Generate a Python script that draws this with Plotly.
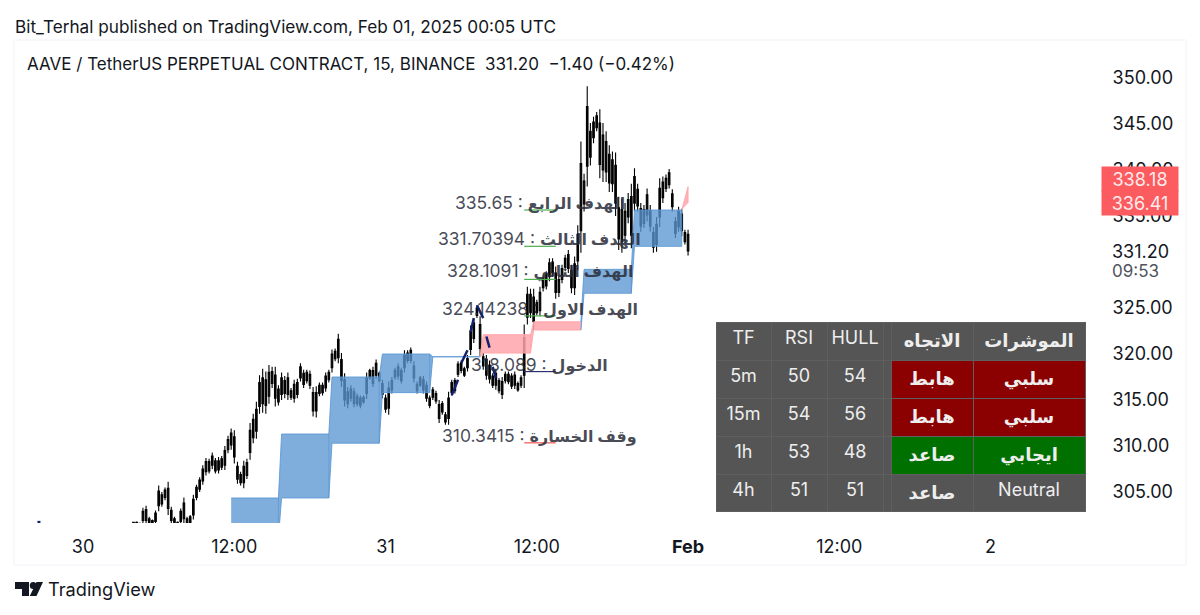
import pandas as pd
import plotly.graph_objects as go

# the page keeps its 8px body margin, so the figure is that much smaller
BODY_MARGIN = 8
WIDTH = 1192
HEIGHT = 607
FONT = "Inter, DejaVu Sans, sans-serif"

first_bar = pd.Timestamp("2025-01-30 00:00")

# 15 minute bars, the first one on Jan 30 04:00
bar_high = [
    301.7, 301.8, 301.6, 303.3, 303.5, 302.3, 302.0, 303.0, 305.7, 305.0,
    305.5, 306.1, 303.4, 302.3, 301.8, 303.2, 304.4, 302.3, 302.5, 304.7,
    305.8, 306.6, 307.9, 308.7, 308.6, 309.3, 308.7, 308.8, 308.9, 310.0,
    311.1, 311.9, 311.7, 308.3, 307.2, 308.4, 308.6, 312.5, 313.5, 314.8,
    317.7, 318.4, 318.1, 318.8, 318.6, 318.6, 316.6, 318.0, 317.6, 318.0,
    316.3, 317.2, 317.3, 319.0, 318.3, 318.3, 318.2, 316.4, 316.5, 316.9,
    316.9, 318.0, 318.3, 320.5, 320.6, 322.2, 320.1, 317.9, 316.4, 316.6,
    316.3, 315.7, 315.5, 315.5, 318.0, 318.4, 318.6, 319.4, 318.1, 317.2,
    315.6, 317.0, 317.5, 318.5, 319.0, 318.5, 320.4, 320.4, 320.7, 319.2,
    317.0, 317.6, 317.6, 317.0, 315.5, 316.4, 316.0, 315.0, 314.9, 313.7,
    315.9, 317.2, 317.4, 319.2, 319.3, 318.6, 319.9, 323.1, 323.9, 325.3,
    324.1, 320.1, 319.9, 319.3, 317.9, 318.4, 317.4, 317.5, 318.1, 318.1,
    317.9, 318.1, 317.0, 317.7, 323.2, 327.3, 327.1, 327.1, 325.9, 327.3,
    328.6, 329.0, 330.4, 330.4, 329.5, 328.6, 329.7, 330.8, 331.3, 329.7,
    330.6, 334.0, 343.1, 339.6, 349.1, 345.1, 345.8, 346.3, 346.6, 345.1,
    344.2, 342.7, 342.0, 341.9, 337.1, 336.9, 336.4, 337.5, 338.5, 340.2,
    338.5, 336.4, 336.2, 338.0, 336.2, 333.8, 334.9, 339.1, 339.3, 339.5,
    340.1, 337.9, 334.9, 336.0, 335.8, 333.5, 333.5,
]
bar_low = [
    301.5, 301.5, 301.4, 301.5, 301.5, 301.5, 301.5, 301.5, 302.9, 303.4,
    304.1, 302.5, 301.5, 301.5, 301.5, 301.5, 301.5, 301.5, 301.5, 302.0,
    304.1, 305.0, 305.8, 306.8, 307.0, 307.5, 307.0, 307.0, 307.4, 307.4,
    309.2, 309.6, 308.1, 305.9, 305.7, 305.4, 306.4, 308.5, 310.3, 310.8,
    313.5, 313.6, 313.5, 314.6, 316.3, 314.3, 314.4, 315.0, 315.2, 315.0,
    315.0, 314.7, 315.2, 317.0, 316.3, 316.8, 316.2, 313.2, 313.1, 315.4,
    315.5, 315.9, 316.9, 318.0, 319.2, 319.0, 316.4, 314.3, 314.1, 314.8,
    314.2, 314.3, 314.1, 314.6, 315.1, 317.2, 316.4, 317.3, 316.9, 315.2,
    313.6, 313.4, 315.7, 317.2, 317.2, 316.8, 318.0, 319.0, 319.0, 316.9,
    315.7, 316.4, 315.7, 314.8, 314.1, 315.0, 314.6, 312.5, 313.4, 312.3,
    312.3, 315.5, 315.7, 317.5, 317.9, 317.5, 318.1, 319.9, 321.2, 323.9,
    319.7, 318.3, 317.2, 316.8, 316.3, 316.1, 315.7, 315.1, 316.8, 316.7,
    316.2, 316.2, 315.9, 316.3, 316.3, 323.2, 323.9, 322.6, 324.2, 324.1,
    326.8, 327.0, 327.9, 328.4, 326.0, 326.2, 327.7, 329.0, 328.8, 326.6,
    326.4, 329.1, 331.0, 335.5, 338.2, 340.5, 342.9, 344.2, 339.1, 338.7,
    338.7, 337.6, 337.6, 335.0, 331.3, 331.0, 332.0, 334.2, 331.5, 335.5,
    335.5, 333.3, 333.7, 334.4, 333.3, 331.0, 331.1, 333.8, 336.4, 337.6,
    338.0, 335.5, 332.6, 333.3, 332.8, 331.9, 330.7,
]
# all candles are black in the picture so only the body ends can be read
body_low = [
    301.5, 301.6, 301.4, 301.9, 301.9, 301.7, 301.6, 301.8, 303.5, 303.7,
    304.4, 303.2, 301.9, 301.7, 301.6, 301.8, 302.1, 301.7, 301.7, 302.5,
    304.4, 305.3, 306.2, 307.2, 307.3, 307.9, 307.3, 307.4, 307.7, 307.9,
    309.6, 310.1, 308.8, 306.4, 306.0, 306.0, 306.8, 309.3, 310.9, 311.6,
    314.3, 314.6, 314.4, 315.4, 316.8, 315.2, 314.8, 315.6, 315.7, 315.6,
    315.3, 315.2, 315.6, 317.4, 316.7, 317.1, 316.6, 313.8, 313.8, 315.7,
    315.8, 316.3, 317.2, 318.5, 319.5, 319.6, 317.1, 315.0, 314.6, 315.2,
    314.6, 314.6, 314.4, 314.8, 315.7, 317.4, 316.8, 317.7, 317.1, 315.6,
    314.0, 314.1, 316.1, 317.5, 317.6, 317.1, 318.5, 319.3, 319.3, 317.4,
    316.0, 316.6, 316.1, 315.2, 314.4, 315.3, 314.9, 313.0, 313.7, 312.6,
    313.0, 315.8, 316.0, 317.8, 318.2, 317.7, 318.5, 320.5, 321.7, 324.2,
    320.6, 318.7, 317.7, 317.3, 316.6, 316.6, 316.0, 315.6, 317.1, 317.0,
    316.5, 316.6, 316.1, 316.6, 317.7, 324.0, 324.5, 323.5, 324.5, 324.7,
    327.2, 327.4, 328.4, 328.8, 326.7, 326.7, 328.1, 329.4, 329.3, 327.2,
    327.2, 330.1, 333.4, 336.3, 340.4, 341.4, 343.5, 344.6, 340.6, 340.0,
    339.8, 338.6, 338.5, 336.4, 332.5, 332.2, 332.9, 334.9, 332.9, 336.4,
    336.1, 333.9, 334.2, 335.1, 333.9, 331.6, 331.9, 334.9, 337.0, 338.0,
    338.4, 336.0, 333.1, 333.8, 333.4, 332.2, 331.2,
]
body_high = [
    301.7, 301.7, 301.6, 302.9, 303.1, 302.1, 301.9, 302.7, 305.1, 304.7,
    305.2, 305.4, 303.0, 302.1, 301.7, 302.9, 303.8, 302.1, 302.3, 304.2,
    305.5, 306.3, 307.5, 308.3, 308.3, 308.9, 308.4, 308.4, 308.6, 309.5,
    310.7, 311.4, 311.0, 307.8, 306.9, 307.8, 308.2, 311.7, 312.9, 314.0,
    316.9, 317.4, 317.2, 318.0, 318.1, 317.7, 316.2, 317.4, 317.1, 317.4,
    316.0, 316.7, 316.9, 318.6, 317.9, 318.0, 317.8, 315.8, 315.8, 316.6,
    316.6, 317.6, 318.0, 320.0, 320.3, 321.6, 319.4, 317.2, 315.9, 316.2,
    315.9, 315.4, 315.2, 315.3, 317.4, 318.2, 318.2, 319.0, 317.9, 316.8,
    315.2, 316.3, 317.1, 318.2, 318.6, 318.2, 319.9, 320.1, 320.4, 318.7,
    316.7, 317.4, 317.2, 316.6, 315.2, 316.1, 315.7, 314.5, 314.6, 313.4,
    315.2, 316.9, 317.1, 318.9, 319.0, 318.4, 319.5, 322.5, 323.4, 325.0,
    323.2, 319.7, 319.4, 318.8, 317.6, 317.9, 317.1, 317.0, 317.8, 317.8,
    317.6, 317.7, 316.8, 317.4, 321.8, 326.5, 326.5, 326.2, 325.6, 326.7,
    328.2, 328.6, 329.9, 330.0, 328.8, 328.1, 329.3, 330.4, 330.8, 329.1,
    329.8, 333.0, 340.7, 338.8, 346.9, 344.2, 345.2, 345.9, 345.1, 343.8,
    343.1, 341.7, 341.1, 340.5, 335.9, 335.7, 335.5, 336.8, 337.1, 339.3,
    337.9, 335.8, 335.7, 337.3, 335.6, 333.2, 334.1, 338.0, 338.7, 339.1,
    339.7, 337.4, 334.4, 335.5, 335.2, 333.2, 333.0,
]

# 4h cloud, one level pair per step, bar number counted from Jan 30 00:00
step_bar = [47, 63, 79, 95, 111, 127, 143, 159, 175, 191, 192]
cloud_top = [304.35, 311.3, 317.5, 320.0, 319.7, 322.1, 323.5, 329.2, 335.65, 338.18]
cloud_bottom = [300.0, 304.35, 310.3, 315.8, 319.7, 320.1, 322.6, 326.6, 331.7, 336.41]
cloud_side = ["up", "up", "up", "up", "up", "down", "down", "up", "up", "down"]

# broken navy hull line
hull_bar = [117, 119, None, 120, 122, None, 123, 124, None, 125, 127, None, 128, 129, None, 130, 131]
hull_price = [315.5, 317.2, None, 319.0, 320.4, None, 322.4, 323.9, None, 325.3, 323.9, None, 321.9, 320.7, None, 318.6, 317.4]
hull_dot_bar = [-14]
hull_dot_price = [301.7]

target_names = ["الهدف الرابع", "الهدف الثالث", "الهدف الثاني", "الهدف الاول", "الدخول", "وقف الخسارة"]
target_text = ["335.65", "331.70394", "328.1091", "324.14238", "318.089", "310.3415"]
target_price = [335.65, 331.70394, 328.1091, 324.14238, 318.089, 310.3415]
target_color = ["#4caf50", "#4caf50", "#4caf50", "#4caf50", "#2a2e6e", "#ef5350"]
target_bars = [140, 150]
target_label_bar = 145

tick_dates = ["2025-01-30", "2025-01-30 12:00", "2025-01-31", "2025-01-31 12:00",
              "2025-02-01", "2025-02-01 12:00", "2025-02-02"]
tick_labels = ["30", "12:00", "31", "12:00", "<b>Feb</b>", "12:00", "2"]
price_ticks = [305, 310, 315, 320, 325, 335, 340, 345, 350]

table_header = ["TF", "RSI", "HULL", "", "<b>الاتجاه</b>", "<b>الموشرات</b>"]
table_tf = ["5m", "15m", "1h", "4h"]
table_rsi = ["50", "54", "53", "51"]
table_hull = ["54", "56", "48", "51"]
table_trend = ["<b>هابط</b>", "<b>هابط</b>", "<b>صاعد</b>", "<b>صاعد</b>"]
table_signal = ["<b>سلبي</b>", "<b>سلبي</b>", "<b>ايجابي</b>", "Neutral"]
table_trend_fill = ["#8b0000", "#8b0000", "#007000", "#555555"]
table_signal_fill = ["#8b0000", "#8b0000", "#007000", "#555555"]


def bar_time(bar):
    return first_bar + pd.Timedelta(minutes=15 * bar)


def px(x):
    return (x - BODY_MARGIN) / WIDTH


def py(y):
    return 1 - (y - BODY_MARGIN) / HEIGHT


def page_text(text, x, y, size=17, color="#131722", anchor="left"):
    fig.add_annotation(
        text=text, xref="paper", yref="paper", x=px(x), y=py(y), xanchor=anchor, yanchor="middle",
        showarrow=False, font=dict(family=FONT, size=size, color=color),
    )


fig = go.Figure()

cloud_colors = {"up": ("rgba(91,150,210,0.78)", "rgba(91,150,210,0.85)"),
                "down": ("rgba(255,165,170,0.85)", "rgba(255,165,170,0.9)")}
for i in range(len(cloud_top)):
    start, end = step_bar[i], step_bar[i + 1]
    xs = [start, max(start, end - 1), max(start, end - 1), start]
    ys = [cloud_top[i], cloud_top[i], cloud_bottom[i], cloud_bottom[i]]
    if i > 0:
        xs = [start - 1] + xs + [start - 1]
        ys = [cloud_top[i - 1]] + ys + [cloud_bottom[i - 1]]
    if i == len(cloud_top) - 1:
        # the last step is still forming, only a thin wedge off the old top
        xs = [start - 1, end, end]
        ys = [cloud_top[i - 1], cloud_top[i], cloud_bottom[i]]
    fill, edge = cloud_colors[cloud_side[i]]
    fig.add_trace(go.Scatter(
        x=[bar_time(b) for b in xs], y=ys, mode="lines", fill="toself", fillcolor=fill,
        line=dict(color=edge, width=1), hoverinfo="skip", showlegend=False,
    ))

fig.add_trace(go.Candlestick(
    x=[bar_time(16 + i) for i in range(len(bar_high))],
    open=body_low, high=bar_high, low=bar_low, close=body_high,
    increasing=dict(line=dict(color="#000000", width=1.1), fillcolor="#000000"),
    decreasing=dict(line=dict(color="#000000", width=1.1), fillcolor="#000000"),
    whiskerwidth=0, hoverinfo="skip", showlegend=False,
))

fig.add_trace(go.Scatter(
    x=[None if b is None else bar_time(b) for b in hull_bar], y=hull_price, mode="lines",
    line=dict(color="#12216b", width=2.5), hoverinfo="skip", showlegend=False,
))
fig.add_trace(go.Scatter(
    x=[bar_time(b) for b in hull_dot_bar], y=hull_dot_price, mode="markers",
    marker=dict(color="#12216b", size=3, symbol="square"), hoverinfo="skip", showlegend=False,
))

for name, text, price, color in zip(target_names, target_text, target_price, target_color):
    fig.add_trace(go.Scatter(
        x=[bar_time(b) for b in target_bars], y=[price, price], mode="lines",
        line=dict(color=color, width=1.2), hoverinfo="skip", showlegend=False,
    ))
    fig.add_annotation(
        x=bar_time(target_label_bar), y=price, xanchor="center", yanchor="bottom", yshift=-5,
        text=f'{text} : <span style="font-size:16px"><b>{name}</b></span>', showarrow=False,
        font=dict(family=FONT, size=17.5, color="rgba(40,44,56,0.85)"),
    )

fig.add_trace(go.Table(
    domain=dict(x=[px(716), px(1085)], y=[py(512), py(322)]),
    columnwidth=[55, 56, 56, 8, 82, 112],
    header=dict(
        values=table_header, height=38, align="center", fill_color="#555555",
        line=dict(color="#5f5f5f", width=1),
        font=dict(family=FONT, size=18, color="#eeeeee"),
    ),
    cells=dict(
        values=[table_tf, table_rsi, table_hull, ["", "", "", ""], table_trend, table_signal],
        height=37.5, align="center",
        fill_color=[["#555555"] * 4, ["#555555"] * 4, ["#555555"] * 4, ["#555555"] * 4,
                    table_trend_fill, table_signal_fill],
        line=dict(color="#5f5f5f", width=1), font=dict(family=FONT, size=18, color="#eeeeee"),
    ),
))

# frame around the chart and the TradingView mark
fig.add_shape(type="rect", xref="paper", yref="paper", x0=px(14), x1=px(1186), y0=py(565), y1=py(40),
              line=dict(color="#f0f3fa", width=1), layer="below")
logo_bar = [(15, 582), (29, 582), (29, 596), (22, 596), (22, 589), (15, 589)]
logo_slant = [(36.5, 582), (43, 582), (36.5, 596), (29.8, 596)]
for corners in (logo_bar, logo_slant):
    path = "M " + " L ".join(f"{px(a):.5f},{py(b):.5f}" for a, b in corners) + " Z"
    fig.add_shape(type="path", xref="paper", yref="paper", path=path, fillcolor="#131722", line_width=0)
fig.add_shape(type="circle", xref="paper", yref="paper", x0=px(29.8), x1=px(36.6), y0=py(589), y1=py(582),
              fillcolor="#131722", line_width=0)

page_text("Bit_Terhal published on TradingView.com, Feb 01, 2025 00:05 UTC", 13, 26, size=17.2)
page_text("AAVE / TetherUS PERPETUAL CONTRACT, 15, BINANCE  331.20  −1.40 (−0.42%)", 25, 64, size=17)
page_text("TradingView", 46, 589, size=18.2)
page_text("331.20", 1110, 251, size=18)
page_text("09:53", 1110, 271, size=17, color="#50535e")

for label, y in (("338.18", 179), ("336.41", 203)):
    fig.add_annotation(
        text=label, xref="paper", yref="paper", x=px(1140), y=py(y), xanchor="center", yanchor="middle",
        width=72, height=20, borderpad=2, bgcolor="#fc5b60", showarrow=False,
        font=dict(family=FONT, size=18, color="#ffecec"),
    )

fig.update_layout(
    width=WIDTH,
    height=HEIGHT,
    autosize=False,
    margin=dict(l=0, r=0, t=0, b=0),
    paper_bgcolor="#ffffff",
    plot_bgcolor="#ffffff",
    showlegend=False,
    xaxis=dict(
        domain=[px(15), px(1100)],
        range=["2025-01-29 18:36", "2025-02-02 08:41"],
        rangeslider=dict(visible=False),
        tickmode="array", tickvals=tick_dates, ticktext=tick_labels,
        showgrid=False, zeroline=False, showline=False,
        ticks="outside", ticklen=7, tickcolor="rgba(0,0,0,0)",
        tickfont=dict(family=FONT, size=18, color="#131722"),
    ),
    yaxis=dict(
        domain=[py(523), py(41)],
        range=[301.63, 354.02],
        side="right",
        tickmode="array", tickvals=price_ticks, tickformat=".2f",
        showgrid=False, zeroline=False, showline=False,
        ticks="outside", ticklen=8, tickcolor="rgba(0,0,0,0)",
        tickfont=dict(family=FONT, size=18, color="#131722"),
    ),
)

fig.write_html("out.html")
